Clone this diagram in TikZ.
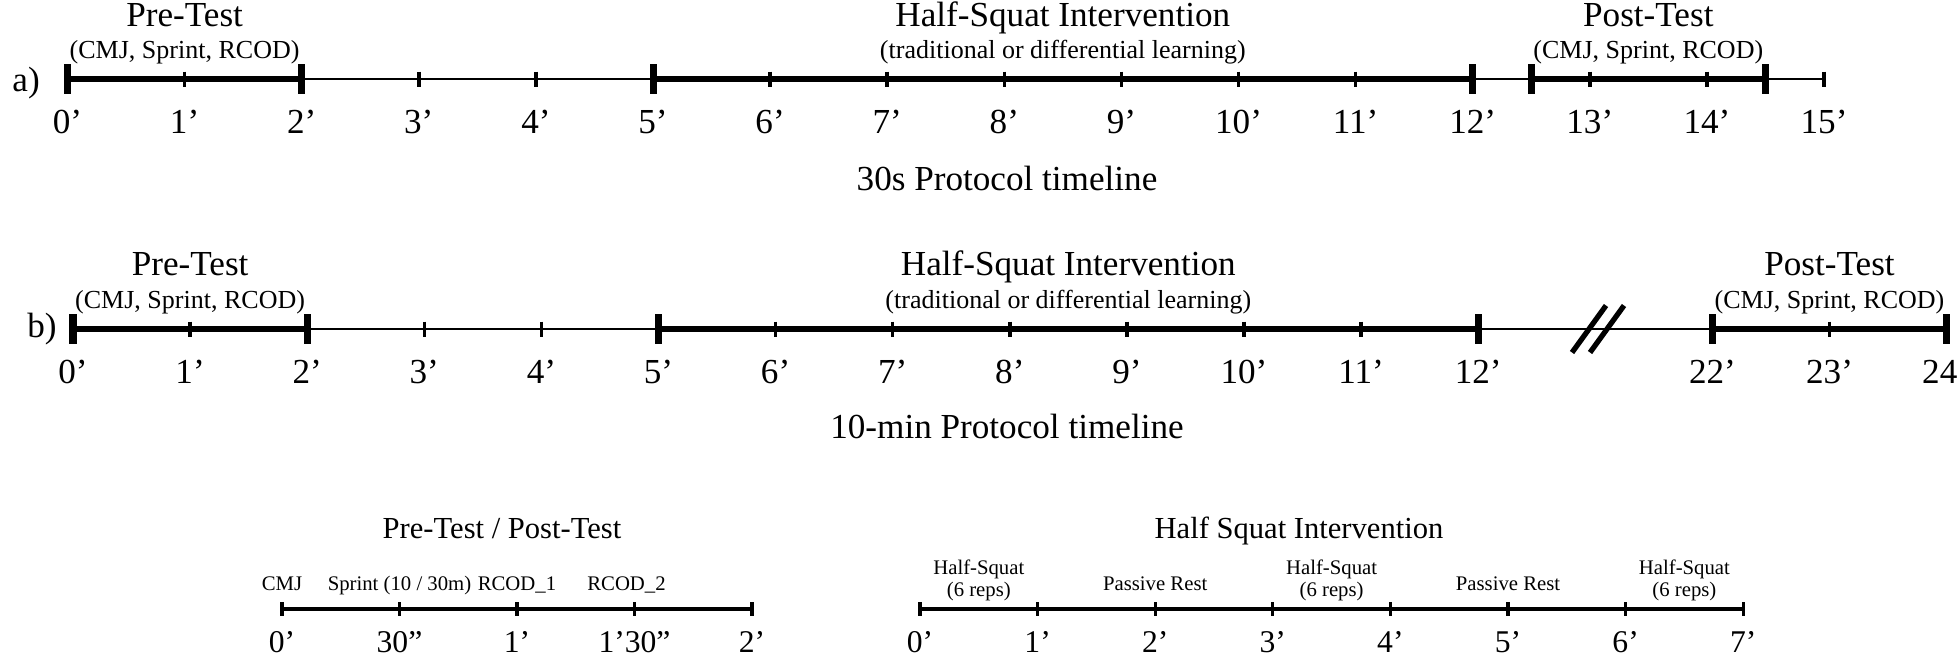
\documentclass[tikz,border=0pt]{standalone}
\usepackage{fontspec}
\setmainfont{Liberation Serif}
\usetikzlibrary{positioning}

\begin{document}
\begin{tikzpicture}[
  title/.style={font=\fontsize{10}{12}\selectfont, anchor=base},
  subtitle/.style={font=\fontsize{7.4}{9}\selectfont, anchor=base},
  num/.style={font=\fontsize{10}{12}\selectfont, anchor=base},
  btitle/.style={font=\fontsize{8.7}{10}\selectfont, anchor=base},
  bnum/.style={font=\fontsize{9}{11}\selectfont, anchor=base},
  blabel/.style={font=\fontsize{5.9}{6.3}\selectfont, align=center, inner sep=0pt},
  axis/.style={line width=0.75pt},
  phase/.style={line width=1.9pt},
  major/.style={line width=2pt},
  minor/.style={line width=1pt},
  btick/.style={line width=0.9pt},
  brk/.style={line width=1.5pt}]
  \useasboundingbox (0,0) rectangle (19.58,6.54);

  % a) 30s protocol
  \foreach \i in {0,...,15} \coordinate (a\i) at (0.675+1.171*\i,5.75);
  \coordinate (aps) at (0.675+1.171*12.5,5.75);
  \coordinate (ape) at (0.675+1.171*14.5,5.75);
  \draw[axis] (a0) -- (a15);
  \draw[phase] (a0) -- (a2);
  \draw[phase] (a5) -- (a12);
  \draw[phase] (aps) -- (ape);
  \foreach \p in {a0,a2,a5,a12,aps,ape} \draw[major] (\p) ++(0,0.15) -- ++(0,-0.3);
  \foreach \p in {a1,a3,a4,a6,a7,a8,a9,a10,a11,a13,a14,a15} \draw[minor] (\p) ++(0,0.075) -- ++(0,-0.15);
  \foreach \i in {0,...,15} \path (a\i) ++(0,-0.54) node[num] (na\i) {\i'};
  \node[num, anchor=base west] (la) at (0.0,5.63) {a)};
  \path (a1) ++(0,0.53) node[title] (preA) {Pre-Test};
  \path (a1) ++(0,0.21) node[subtitle] (preAsub) {(CMJ, Sprint, RCOD)};
  \path (a8) ++(0.585,0.53) node[title] (hsA) {Half-Squat Intervention};
  \path (a8) ++(0.585,0.21) node[subtitle] (hsAsub) {(traditional or differential learning)};
  \path (a13) ++(0.585,0.53) node[title] (postA) {Post-Test};
  \path (a13) ++(0.585,0.21) node[subtitle] (postAsub) {(CMJ, Sprint, RCOD)};
  \node[title] (capA) at (10.07,4.64) {30s Protocol timeline};

  % b) 10-min protocol
  \foreach \i in {0,...,12} \coordinate (b\i) at (0.73+1.171*\i,3.25);
  \coordinate (b22) at (0.73+1.171*14,3.25);
  \coordinate (b23) at (0.73+1.171*15,3.25);
  \coordinate (b24) at (0.73+1.171*16,3.25);
  \coordinate (bgap) at (15.98,3.25);
  \draw[axis] (b0) -- (b24);
  \draw[phase] (b0) -- (b2);
  \draw[phase] (b5) -- (b12);
  \draw[phase] (b22) -- (b24);
  \foreach \p in {b0,b2,b5,b12,b22,b24} \draw[major] (\p) ++(0,0.15) -- ++(0,-0.3);
  \foreach \p in {b1,b3,b4,b6,b7,b8,b9,b10,b11,b23} \draw[minor] (\p) ++(0,0.075) -- ++(0,-0.15);
  \draw[brk] (bgap) ++(-0.26,-0.235) -- ++(0.34,0.47);
  \draw[brk] (bgap) ++(-0.08,-0.235) -- ++(0.34,0.47);
  \foreach \i in {0,...,12,22,23} \path (b\i) ++(0,-0.54) node[num] (nb\i) {\i'};
  \node[num, anchor=base west, inner sep=0pt] (nb24) at (19.215,2.71) {24};
  \node[num, anchor=base west] (lb) at (0.15,3.17) {b)};
  \path (b1) ++(0,0.54) node[title] (preB) {Pre-Test};
  \path (b1) ++(0,0.21) node[subtitle] (preBsub) {(CMJ, Sprint, RCOD)};
  \path (b8) ++(0.585,0.54) node[title] (hsB) {Half-Squat Intervention};
  \path (b8) ++(0.585,0.21) node[subtitle] (hsBsub) {(traditional or differential learning)};
  \path (b23) ++(0,0.54) node[title] (postB) {Post-Test};
  \path (b23) ++(0,0.21) node[subtitle] (postBsub) {(CMJ, Sprint, RCOD)};
  \node[title] (capB) at (10.07,2.16) {10-min Protocol timeline};

  % test detail
  \foreach \i in {0,...,4} \coordinate (c\i) at (2.82+1.175*\i,0.45);
  \draw[btick] (c0) -- (c4);
  \foreach \i in {0,...,4} \draw[btick] (c\i) ++(0,0.067) -- ++(0,-0.134);
  \foreach \i/\t in {0/0',1/30'',2/1',3/1'30'',4/2'} \path (c\i) ++(0,-0.43) node[bnum] (nc\i) {\t};
  \path (c0) ++(0,0.19) node[blabel, anchor=base] (cmj) {CMJ};
  \path (c1) ++(0,0.19) node[blabel, anchor=base] (sprint) {Sprint (10 / 30m)};
  \path (c2) ++(0,0.19) node[blabel, anchor=base] (rcod1) {RCOD\_1};
  \path (c3) ++(-0.08,0.19) node[blabel, anchor=base] (rcod2) {RCOD\_2};
  \node[btitle] (testC) at (5.02,1.16) {Pre-Test / Post-Test};

  % intervention detail
  \foreach \i in {0,...,7} \coordinate (d\i) at (9.20+1.176*\i,0.45);
  \draw[btick] (d0) -- (d7);
  \foreach \i in {0,...,7} \draw[btick] (d\i) ++(0,0.067) -- ++(0,-0.134);
  \foreach \i in {0,...,7} \path (d\i) ++(0,-0.43) node[bnum] (nd\i) {\i'};
  \foreach \i in {0,3,6} \path (d\i) ++(0.588,0.07) node[blabel, anchor=south] (sq\i) {Half-Squat\\(6 reps)};
  \foreach \i in {2,5} \path (d\i) ++(0,0.19) node[blabel, anchor=base] (rest\i) {Passive Rest};
  \node[btitle] (hsD) at (12.99,1.16) {Half Squat Intervention};
\end{tikzpicture}
\end{document}
